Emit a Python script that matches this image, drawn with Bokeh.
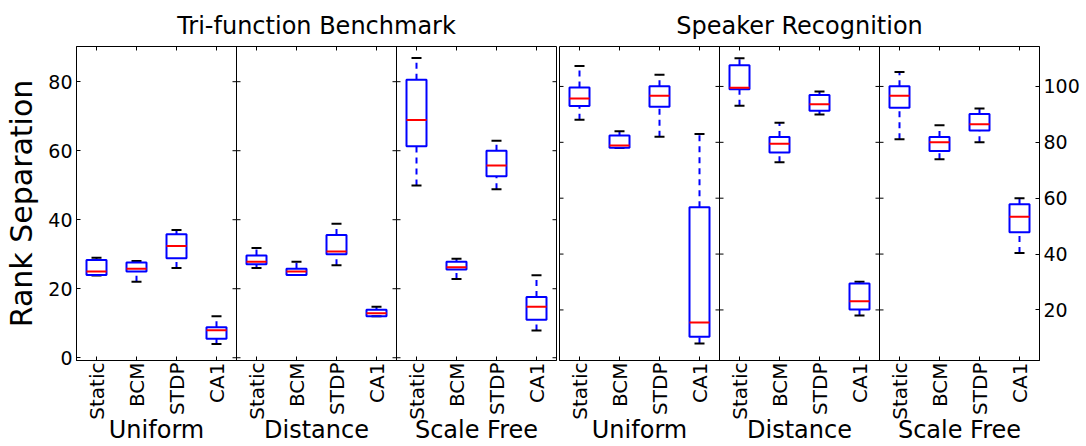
import math
from bokeh.plotting import figure
from bokeh.layouts import row
from bokeh.models import FixedTicker, LinearAxis, Span, Range1d
from bokeh.embed import file_html
from bokeh.resources import INLINE

methods = ["Static", "BCM", "STDP", "CA1"]
topologies = ["Uniform", "Distance", "Scale Free"]
left_ticks = [0, 20, 40, 60, 80]
right_ticks = [20, 40, 60, 80, 100]

# Tri-function Benchmark: per topology, per method -> low whisker, q1, median, q3, high whisker
tri_low = [[23.8, 22.0, 26.0, 4.0], [26.0, 24.0, 26.8, 12.0], [49.9, 22.8, 48.8, 7.9]]
tri_q1 = [[24.0, 25.0, 28.8, 5.5], [27.1, 24.0, 30.0, 12.0], [61.3, 25.6, 52.6, 11.0]]
tri_med = [[25.0, 25.8, 32.4, 8.0], [27.8, 25.0, 30.8, 12.9], [68.9, 26.2, 55.7, 14.8]]
tri_q3 = [[28.3, 27.6, 35.8, 8.8], [29.6, 25.8, 35.6, 13.9], [80.6, 27.8, 60.0, 17.6]]
tri_high = [[29.0, 28.0, 37.0, 12.0], [31.8, 27.8, 38.8, 14.8], [86.9, 28.7, 62.9, 23.9]]

# Speaker Recognition
spk_low = [[88.1, 78.0, 82.0, 8.0], [93.1, 72.9, 90.0, 18.0], [81.1, 73.9, 80.0, 40.4]]
spk_q1 = [[93.0, 78.1, 92.7, 10.4], [99.0, 76.4, 91.3, 20.2], [92.4, 76.9, 84.2, 47.8]]
spk_med = [[95.7, 78.9, 96.7, 15.5], [99.5, 79.5, 93.6, 23.1], [96.7, 80.0, 86.5, 53.4]]
spk_q3 = [[99.6, 82.4, 100.1, 56.8], [107.6, 81.9, 96.9, 29.5], [100.1, 81.9, 90.1, 57.8]]
spk_high = [[107.3, 84.0, 104.2, 83.0], [110.1, 87.0, 98.2, 30.1], [105.2, 86.1, 92.1, 60.0]]

FONT = "DejaVu Sans"
BOX_W = 0.5
CAP_W = 0.25
FRAME_W = 480
FRAME_H = 316
TICK_PX = 4


def flat(a):
    return [v for grp in a for v in grp]


def make_fig(title, yr, yticks, side, width, mbl, mbr, low, q1, med, q3, high, ylabel=None):
    fig = figure(width=width, height=446, x_range=Range1d(0.5, 12.5), y_range=Range1d(*yr),
                 output_backend="svg", toolbar_location=None, y_axis_location=side,
                 min_border_left=mbl, min_border_right=mbr, min_border_top=46, min_border_bottom=84)
    fig.background_fill_color = "white"
    fig.border_fill_color = "white"
    fig.outline_line_color = "black"
    fig.outline_line_width = 1
    fig.xgrid.visible = False
    fig.ygrid.visible = False

    xs = [4 * p + m + 1 for p in range(len(topologies)) for m in range(len(methods))]
    labels = {x: methods[(x - 1) % 4] for x in xs}
    dx = TICK_PX * 12.0 / FRAME_W
    dy = TICK_PX * (yr[1] - yr[0]) / FRAME_H

    xa = fig.xaxis[0]
    xa.ticker = FixedTicker(ticks=xs)
    xa.major_label_overrides = labels
    xa.major_label_orientation = math.pi / 2
    xa.major_label_text_font_size = "20px"
    xa.major_label_text_font = FONT
    xa.major_label_text_color = "black"
    xa.major_label_standoff = 2
    xa.major_tick_in = TICK_PX
    xa.major_tick_out = 0
    xa.minor_tick_line_color = None
    xa.axis_line_color = "black"

    centers = [4 * p + 2.5 for p in range(len(topologies))]
    ga = LinearAxis(ticker=FixedTicker(ticks=centers),
                    major_label_overrides={c: t for c, t in zip(centers, topologies)},
                    major_label_text_font_size="24px", major_label_text_font=FONT,
                    major_label_text_color="black", major_label_standoff=-13,
                    major_tick_line_color=None, minor_tick_line_color=None, axis_line_color=None)
    fig.add_layout(ga, "below")

    ya = fig.yaxis[0]
    ya.ticker = FixedTicker(ticks=yticks)
    ya.major_label_text_font_size = "19px"
    ya.major_label_text_font = FONT
    ya.major_label_text_color = "black"
    ya.major_label_standoff = 4
    ya.major_tick_in = TICK_PX
    ya.major_tick_out = 0
    ya.minor_tick_line_color = None
    ya.axis_line_color = "black"
    if ylabel:
        ya.axis_label = ylabel
        ya.axis_label_text_font_size = "30px"
        ya.axis_label_text_font = FONT
        ya.axis_label_text_font_style = "normal"
        ya.axis_label_text_color = "black"
        ya.axis_label_standoff = 6

    fig.title.text = title
    fig.title.align = "center"
    fig.title.text_font = FONT
    fig.title.text_font_size = "24px"
    fig.title.text_font_style = "normal"
    fig.title.text_color = "black"
    fig.title.standoff = 13

    # inward ticks along the top edge
    fig.segment(x0=xs, x1=xs, y0=[yr[1]] * len(xs), y1=[yr[1] - dy] * len(xs),
                line_color="black", line_width=1)
    # panel dividers with inward ticks on both sides
    for p in range(1, len(topologies)):
        loc = 4 * p + 0.5
        fig.add_layout(Span(location=loc, dimension="height", line_color="black", line_width=1))
        fig.segment(x0=[loc - dx] * len(yticks), x1=[loc + dx] * len(yticks),
                    y0=yticks, y1=yticks, line_color="black", line_width=1)
    # ticks on the side of the frame without an axis
    edge = 12.5 if side == "left" else 0.5
    sgn = -1 if side == "left" else 1
    fig.segment(x0=[edge] * len(yticks), x1=[edge + sgn * dx] * len(yticks),
                y0=yticks, y1=yticks, line_color="black", line_width=1)

    lo, a, md, b, hi = flat(low), flat(q1), flat(med), flat(q3), flat(high)
    # whiskers
    fig.segment(x0=xs, x1=xs, y0=b, y1=hi, line_color="blue", line_width=2, line_dash="6 5")
    fig.segment(x0=xs, x1=xs, y0=lo, y1=a, line_color="blue", line_width=2, line_dash="6 5")
    # caps
    fig.segment(x0=[x - CAP_W / 2 for x in xs], x1=[x + CAP_W / 2 for x in xs], y0=hi, y1=hi,
                line_color="black", line_width=2)
    fig.segment(x0=[x - CAP_W / 2 for x in xs], x1=[x + CAP_W / 2 for x in xs], y0=lo, y1=lo,
                line_color="black", line_width=2)
    # boxes
    fig.quad(left=[x - BOX_W / 2 for x in xs], right=[x + BOX_W / 2 for x in xs], bottom=a, top=b,
             fill_color=None, line_color="blue", line_width=2)
    # medians
    fig.segment(x0=[x - BOX_W / 2 for x in xs], x1=[x + BOX_W / 2 for x in xs], y0=md, y1=md,
                line_color="red", line_width=2)
    return fig


left = make_fig("Tri-function Benchmark", (-0.8, 90.2), left_ticks, "left", 557, 76, 1,
                tri_low, tri_q1, tri_med, tri_q3, tri_high, ylabel="Rank Separation")
right = make_fig("Speaker Recognition", (1.9, 114.3), right_ticks, "right", 529, 2, 47,
                 spk_low, spk_q1, spk_med, spk_q3, spk_high)

layout = row(left, right)
open("out.html", "w").write(file_html(layout, INLINE))
